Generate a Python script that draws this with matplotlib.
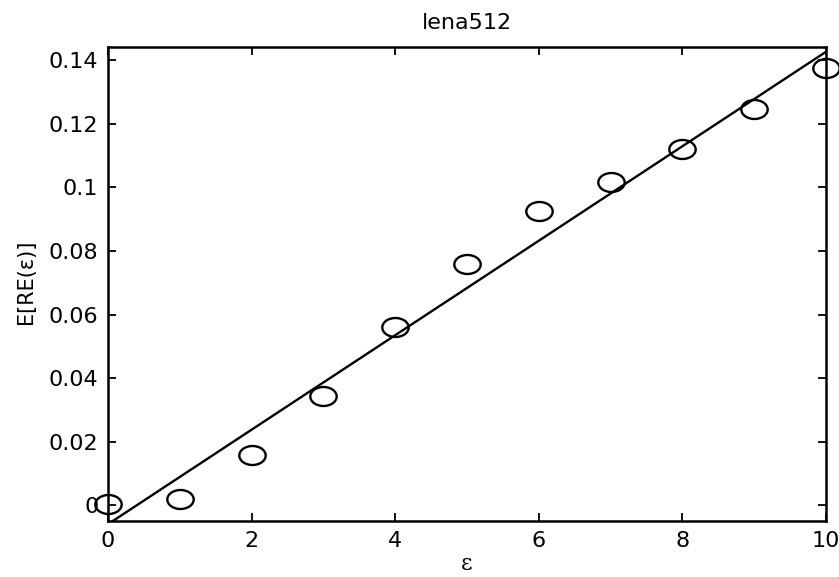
import numpy as np
import matplotlib
matplotlib.use("Agg")
import matplotlib.pyplot as plt
from matplotlib.path import Path

# Measured mean relative error for each epsilon
eps = [0, 1, 2, 3, 4, 5, 6, 7, 8, 9, 10]
mean_re = [0.0006, 0.0021, 0.0159, 0.0345, 0.0560, 0.0758, 0.0925, 0.1016, 0.1121, 0.1245, 0.1374]

# Straight-line fit, given by its end points
fit_x = [0, 10]
fit_y = [-0.0059, 0.1426]

x_ticks = [0, 2, 4, 6, 8, 10]
x_ticklabels = ["0", "2", "4", "6", "8", "10"]
y_ticks = [0, 0.02, 0.04, 0.06, 0.08, 0.1, 0.12, 0.14]
y_ticklabels = ["0", "0.02", "0.04", "0.06", "0.08", "0.1", "0.12", "0.14"]

plt.rcParams["font.family"] = ["DejaVu Sans"]

fig = plt.figure(figsize=(8.39, 5.77), dpi=100)
ax = fig.add_axes([108 / 839, 1 - 521 / 577, (826 - 108) / 839, (521 - 47) / 577])

# slightly flattened circle marker
circ = Path.unit_circle()
oval = Path(circ.vertices * np.array([1.0, 0.72]), circ.codes)

ax.plot(fit_x, fit_y, color="black", lw=1.7, solid_capstyle="butt", clip_on=True)
ax.plot(eps, mean_re, linestyle="none", marker=oval, markersize=19,
        markerfacecolor="none", markeredgecolor="black", markeredgewidth=1.7,
        clip_on=False)

ax.set_xlim(0, 10)
ax.set_ylim(-0.0049, 0.1441)
ax.set_xticks(x_ticks)
ax.set_xticklabels(x_ticklabels)
ax.set_yticks(y_ticks)
ax.set_yticklabels(y_ticklabels)
ax.tick_params(direction="in", length=6, width=1.3, labelsize=16,
               top=True, right=True, pad=7)
for s in ax.spines.values():
    s.set_linewidth(1.8)

ax.set_title("lena512", fontsize=16, pad=13)
ax.set_xlabel("ε", fontsize=16, family=["DejaVu Serif"], labelpad=2)
ax.set_ylabel("E[RE(ε)]", fontsize=15)
ax.yaxis.set_label_coords(-0.1, 0.504)

fig.savefig("out.png", dpi=100)
